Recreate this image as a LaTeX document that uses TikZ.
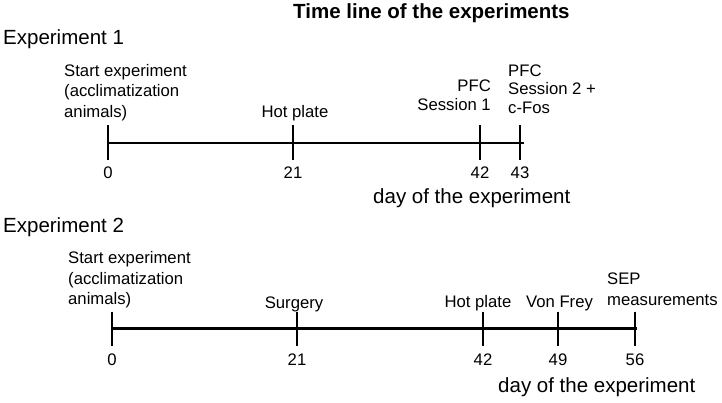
\documentclass[tikz,border=0pt]{standalone}
\usepackage{fontspec}
\setmainfont{Liberation Sans}
\begin{document}
\begin{tikzpicture}[x=1pt,y=-1pt,
  lbl/.style={font=\fontsize{16.7}{20.3}\selectfont, inner sep=0pt},
  lbltight/.style={font=\fontsize{16.7}{18.5}\selectfont, inner sep=0pt},
  big/.style={font=\fontsize{20.5}{24}\selectfont, inner sep=0pt},
  ttl/.style={font=\fontsize{20.5}{24}\selectfont\bfseries, inner sep=0pt},
  axis/.style={line width=2.6pt},
  tickline/.style={line width=1.1pt}]
\useasboundingbox (0,0) rectangle (722,402);

% title
\node[ttl, anchor=base west] (title) at (293,18) {Time line of the experiments};

% ---------- Experiment 1 ----------
\node[big, anchor=base west] (e1) at (3,44) {Experiment 1};
\coordinate (a1s) at (108,143);
\coordinate (a1e) at (524,143);
\draw[axis] (a1s) -- (a1e);

\foreach \n/\x in {0/108, 21/293, 42/480, 43/520}{
  \coordinate (p1t\n) at (\x,125);
  \coordinate (p1b\n) at (\x,160);
  \draw[tickline] (p1t\n) -- (p1b\n);
  \node[lbl, anchor=base] (n1\n) at (\x,178) {\n};
}

\node[lbl, anchor=base west, align=left] (s1) at (64,117)
  {Start experiment\\(acclimatization\\animals)};
\node[lbl, anchor=base] (hp1) at (295,117) {Hot plate};
\node[lbltight, anchor=base east, align=right] (pfc1) at (491,110) {PFC\\Session 1};
\node[lbltight, anchor=base west, align=left] (pfc2) at (508,113.3) {PFC\\Session 2 +\\c-Fos};
\node[big, anchor=base west] (d1) at (373,203) {day of the experiment};

% ---------- Experiment 2 ----------
\node[big, anchor=base west] (e2) at (3,232) {Experiment 2};
\coordinate (a2s) at (112,328.5);
\coordinate (a2e) at (637,328.5);
\draw[axis] (a2s) -- (a2e);

\foreach \n/\x in {0/112, 21/297, 42/483, 49/558, 56/635}{
  \coordinate (p2t\n) at (\x,311.5);
  \coordinate (p2b\n) at (\x,346);
  \draw[tickline] (p2t\n) -- (p2b\n);
  \node[lbl, anchor=base] (n2\n) at (\x,365.7) {\n};
}

\node[lbl, anchor=base west, align=left] (s2) at (68,304.3)
  {Start experiment\\(acclimatization\\animals)};
\node[lbl, anchor=base] (sg) at (294,308.3) {Surgery};
\node[lbl, anchor=base] (hp2) at (478,307.3) {Hot plate};
\node[lbl, anchor=base] (vf) at (559.5,307.3) {Von Frey};
\node[lbl, anchor=base west, align=left] (sep) at (607,305) {SEP\\measurements};
\node[big, anchor=base west] (d2) at (498,392.7) {day of the experiment};
\end{tikzpicture}
\end{document}
